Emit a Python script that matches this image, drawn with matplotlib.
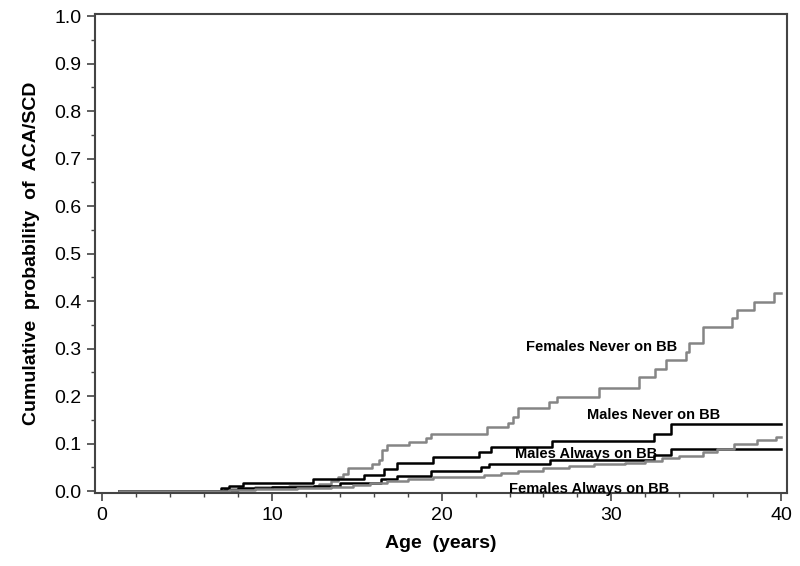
import matplotlib
matplotlib.use("Agg")
import matplotlib.pyplot as plt
from matplotlib.ticker import MultipleLocator, FormatStrFormatter

plt.rcParams['font.family'] = ['Liberation Sans', 'DejaVu Sans']

# Kaplan-Meier style step curves (age in years, cumulative probability)
fem_never_age = [1, 7.5, 9.0, 11.0, 12.8, 13.5, 13.9, 14.2, 14.5, 15.9, 16.3, 16.5, 16.8,
                 18.1, 19.1, 19.4, 22.7, 23.9, 24.2, 24.5, 26.3, 26.8, 29.3, 31.6, 32.6,
                 33.2, 34.4, 34.6, 35.4, 37.1, 37.4, 38.4, 39.6, 40]
fem_never_val = [0, 0.004, 0.008, 0.011, 0.015, 0.022, 0.030, 0.037, 0.048, 0.058, 0.065,
                 0.086, 0.097, 0.104, 0.111, 0.120, 0.135, 0.143, 0.156, 0.174, 0.188,
                 0.199, 0.216, 0.241, 0.258, 0.276, 0.293, 0.311, 0.346, 0.364, 0.381,
                 0.399, 0.416, 0.416]

male_never_age = [1, 7.0, 7.5, 8.3, 12.45, 15.4, 16.6, 17.4, 19.5, 22.2, 22.9, 26.5, 32.5, 33.5, 40]
male_never_val = [0, 0.006, 0.011, 0.016, 0.025, 0.034, 0.046, 0.060, 0.071, 0.082, 0.092,
                  0.105, 0.121, 0.141, 0.141]

male_always_age = [1, 7.2, 8.0, 10.0, 12.5, 14.0, 16.4, 17.4, 19.4, 22.3, 22.8, 26.4, 32.5, 33.5, 40]
male_always_val = [0, 0.003, 0.006, 0.008, 0.011, 0.016, 0.025, 0.032, 0.043, 0.050, 0.058,
                   0.065, 0.076, 0.088, 0.088]

fem_always_age = [1, 7.5, 9.0, 11.5, 13.5, 14.8, 15.8, 16.8, 18.0, 19.5, 22.5, 23.5, 24.5,
                  26.0, 27.5, 29.0, 30.8, 32.0, 33.0, 34.0, 35.4, 36.2, 37.2, 38.6, 39.7, 40]
fem_always_val = [0, 0.002, 0.004, 0.006, 0.009, 0.013, 0.017, 0.022, 0.026, 0.030, 0.034,
                  0.038, 0.043, 0.048, 0.052, 0.056, 0.060, 0.064, 0.069, 0.074, 0.082,
                  0.088, 0.100, 0.107, 0.114, 0.114]

curve_labels = ["Females Never on BB", "Males Never on BB",
                "Males Always on BB", "Females Always on BB"]
label_x = [29.4, 32.5, 28.5, 28.7]
label_y = [0.304, 0.160, 0.079, 0.005]

gray = "#858585"

fig = plt.figure(figsize=(8, 5.66), dpi=100)
ax = fig.add_axes([0.119, 0.129, 0.865, 0.846])

ax.step(fem_never_age, fem_never_val, where="post", color=gray, lw=1.8)
ax.step(male_never_age, male_never_val, where="post", color="black", lw=1.8)
ax.step(male_always_age, male_always_val, where="post", color="black", lw=1.8)
ax.step(fem_always_age, fem_always_val, where="post", color=gray, lw=1.8)

for txt, x, y in zip(curve_labels, label_x, label_y):
    ax.text(x, y, txt, ha="center", va="center", fontsize=10.5, fontweight="bold")

ax.set_xlim(-0.41, 40.36)
ax.set_ylim(-0.004, 1.004)
ax.xaxis.set_major_locator(MultipleLocator(10))
ax.xaxis.set_minor_locator(MultipleLocator(2))
ax.yaxis.set_major_locator(MultipleLocator(0.1))
ax.yaxis.set_minor_locator(MultipleLocator(0.05))
ax.yaxis.set_major_formatter(FormatStrFormatter("%.1f"))
ax.tick_params(which="major", direction="out", length=6, width=1.2, color="#444444",
               labelsize=14, pad=4)
ax.tick_params(which="minor", direction="out", length=3, width=1.0, color="#444444")
for sp in ax.spines.values():
    sp.set_color("#444444")
    sp.set_linewidth(1.5)

ax.set_xlabel("Age  (years)", fontsize=14, fontweight="bold", labelpad=8)
ax.set_ylabel("Cumulative  probability  of  ACA/SCD", fontsize=14, fontweight="bold",
              labelpad=10)

fig.savefig("out.png", dpi=100)
